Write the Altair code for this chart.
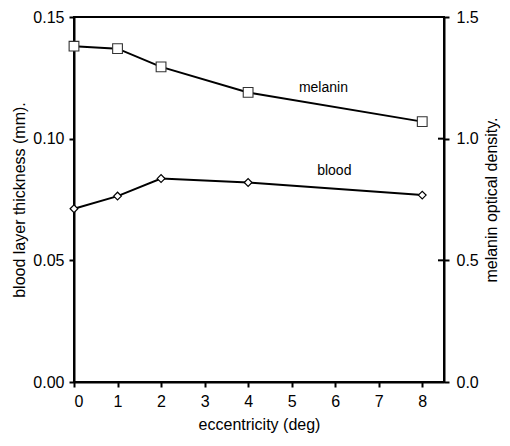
import altair as alt
import pandas as pd

ecc = [0, 1, 2, 4, 8]
melanin = [1.38, 1.37, 1.295, 1.19, 1.07]
blood = [0.0712, 0.0764, 0.0836, 0.0820, 0.0768]
x_ticks = [0, 1, 2, 3, 4, 5, 6, 7, 8]
left_ticks = [0.0, 0.05, 0.10, 0.15]
right_ticks = [0.0, 0.5, 1.0, 1.5]
labels = ["melanin", "blood"]
label_x = [5.73, 5.98]
label_left_y = [0.1210, 0.0867]

FONT = "Liberation Sans"
FS = 16
W, H = 370, 365

df_m = pd.DataFrame({"ecc": ecc, "val": melanin})
df_b = pd.DataFrame({"ecc": ecc, "val": blood})
df_lab = pd.DataFrame({"x": label_x, "y": label_left_y, "t": labels})
df_rt = pd.DataFrame({"val": right_ticks})

xs = alt.Scale(domain=[0, 8.5], nice=False, zero=False)
ysl = alt.Scale(domain=[0, 0.15], nice=False)
ysr = alt.Scale(domain=[0, 1.5], nice=False)

common = dict(grid=False, domainColor="black", domainWidth=2, tickColor="black",
              tickWidth=2, tickSize=5, labelFontSize=FS, titleFontSize=FS,
              labelFont=FONT, titleFont=FONT, titleFontWeight="normal",
              labelColor="black", titleColor="black")

xaxis = alt.Axis(title="eccentricity (deg)", values=x_ticks, format="d",
                 labelPadding=6, titlePadding=7, **common)
left_axis = alt.Axis(title="blood layer thickness (mm).", values=left_ticks, format=".2f",
                     labelPadding=5, titlePadding=5, **common)
right_axis = alt.Axis(title="melanin optical density.", orient="right", values=right_ticks,
                      format=".1f", labelPadding=7, titlePadding=5, titleAngle=270,
                      titleBaseline="top", **common)

blood_line = alt.Chart(df_b).mark_line(color="black", strokeWidth=2).encode(
    x=alt.X("ecc:Q", scale=xs, axis=xaxis),
    y=alt.Y("val:Q", scale=ysl, axis=left_axis),
)
blood_pts = alt.Chart(df_b).mark_point(shape="diamond", size=60, filled=True,
                                       fill="white", stroke="black", strokeWidth=1.2,
                                       opacity=1).encode(
    x=alt.X("ecc:Q", scale=xs),
    y=alt.Y("val:Q", scale=ysl),
)
lab = alt.Chart(df_lab).mark_text(fontSize=14, font=FONT, color="black").encode(
    x=alt.X("x:Q", scale=xs),
    y=alt.Y("y:Q", scale=ysl),
    text="t:N",
)
left_layer = alt.layer(blood_line, blood_pts, lab)

mel_line = alt.Chart(df_m).mark_line(color="black", strokeWidth=2).encode(
    x=alt.X("ecc:Q", scale=xs),
    y=alt.Y("val:Q", scale=ysr, axis=right_axis),
)
mel_pts = alt.Chart(df_m).mark_point(shape="square", size=95, filled=True,
                                     fill="white", stroke="#333333", strokeWidth=1.1,
                                     opacity=1).encode(
    x=alt.X("ecc:Q", scale=xs),
    y=alt.Y("val:Q", scale=ysr),
)
inner_ticks = alt.Chart(df_rt).mark_rule(color="black", strokeWidth=2).encode(
    x=alt.value(W - 6),
    x2=alt.value(W),
    y=alt.Y("val:Q", scale=ysr),
)
right_layer = alt.layer(mel_line, mel_pts, inner_ticks)

chart = alt.layer(left_layer, right_layer).resolve_scale(y="independent").properties(
    width=W, height=H,
    background="white",
    autosize=alt.AutoSizeParams(type="none"),
    padding={"left": 66, "top": 9, "right": 58, "bottom": 56},
).configure_view(stroke="black", strokeWidth=2)

chart.save("out.html", embed_options={"renderer": "svg", "actions": False})
